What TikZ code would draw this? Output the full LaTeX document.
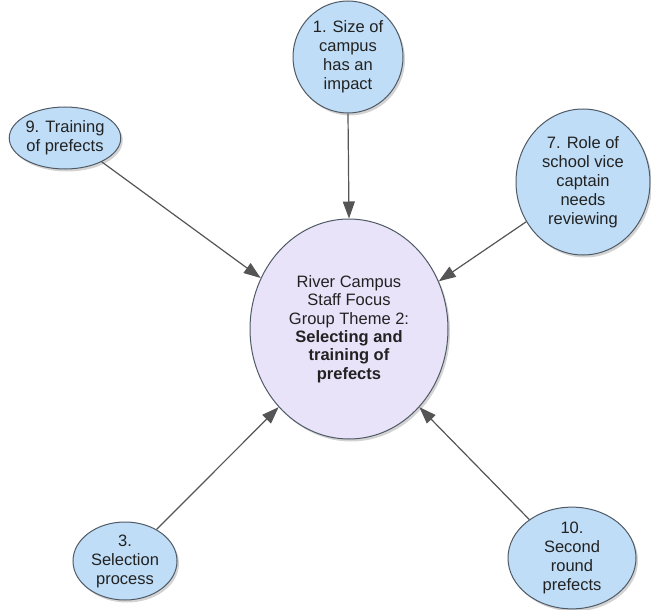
\documentclass[tikz,border=0pt]{standalone}
\usepackage{fontspec}
\setmainfont{Liberation Sans}
\usetikzlibrary{shapes.geometric,arrows.meta,shadows}

\definecolor{ideafill}{HTML}{BFDDF6}
\definecolor{themefill}{HTML}{E9E3FA}
\definecolor{bordergray}{HTML}{4F5A66}
\definecolor{linkgray}{HTML}{555555}
\definecolor{textdark}{HTML}{222222}

\tikzset{
  bubble/.style={ellipse, draw=bordergray, line width=1pt, fill=ideafill,
    inner sep=0pt, align=center, text=textdark,
    font=\fontsize{16.5}{19}\selectfont,
    drop shadow={opacity=0.35, shadow xshift=2pt, shadow yshift=-2.5pt}},
  theme/.style={bubble, fill=themefill, font=\fontsize{16.5}{18.4}\selectfont},
  link/.style={draw=linkgray, line width=1.2pt,
    -{Triangle[length=17pt,width=12pt]}}
}

\begin{document}
\begin{tikzpicture}[x=1pt,y=-1pt]
  \useasboundingbox (0,0) rectangle (651,610);

  % central theme
  \node[theme, minimum width=198pt, minimum height=220pt] (c) at (349,329)
    {River Campus\\Staff Focus\\Group Theme 2:\\\textbf{Selecting and}\\\textbf{training of}\\\textbf{prefects}};

  % surrounding ideas
  \node[bubble, minimum width=110pt, minimum height=112pt] (n1) at (348,57)
    {1. Size of\\campus\\has an\\impact};
  \node[bubble, minimum width=106pt, minimum height=62pt] (n9) at (65,138)
    {9. Training\\of prefects};
  \node[bubble, minimum width=134pt, minimum height=146pt] (n7) at (583,182)
    {7. Role of\\school vice\\captain\\needs\\reviewing};
  \node[bubble, minimum width=104pt, minimum height=78pt] (n3) at (125,561)
    {3.\\Selection\\process};
  \node[bubble, minimum width=128pt, minimum height=100pt] (n10) at (572,558)
    {10.\\Second\\round\\prefects};

  % links into the theme
  \draw[link] (n1.south) -- (c.north);
  \draw[link] (n9.-33) -- (c.150);
  \draw[link] (n7.215) -- (c.28);
  \draw[link] (n3.45) -- (c.228);
  \draw[link] (n10.138) -- (c.312);
\end{tikzpicture}
\end{document}
